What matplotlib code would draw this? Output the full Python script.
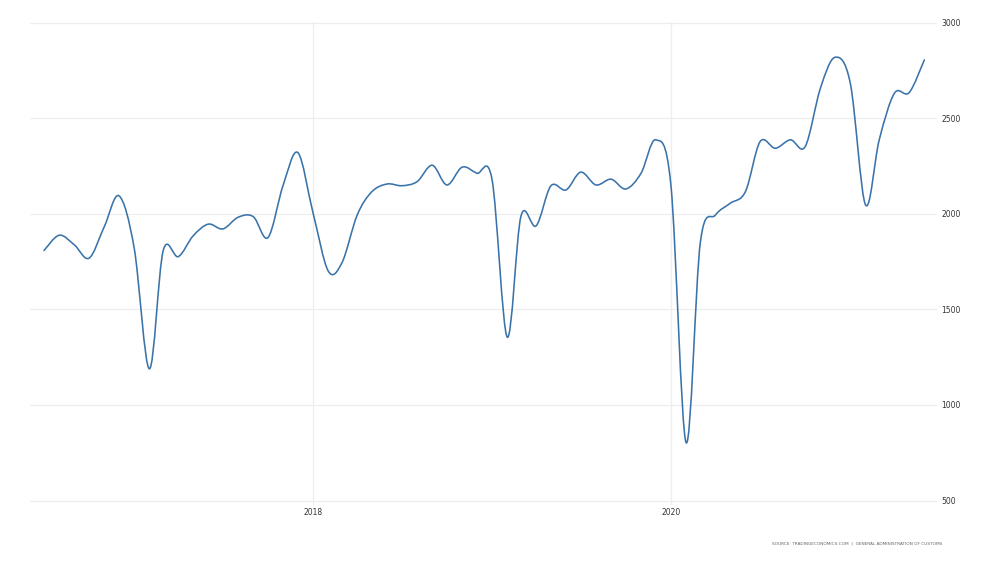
import matplotlib
matplotlib.use("Agg")
import matplotlib.pyplot as plt
import matplotlib.dates as mdates
from matplotlib.path import Path
from matplotlib.patches import PathPatch
import numpy as np
import pandas as pd

# ---- data (monthly, Jul 2016 - Jun 2021) ----
start_month = "2016-07-01"
values = [
    1808, 1888, 1837, 1768, 1933, 2094,            # 2016 Jul-Dec
    1820, 1189, 1806, 1776, 1884, 1946,            # 2017 Jan-Jun
    1921, 1982, 1985, 1876, 2151, 2320,            # 2017 Jul-Dec
    2003, 1700, 1745, 1994, 2116, 2156,            # 2018 Jan-Jun
    2147, 2168, 2254, 2151, 2244, 2212,            # 2018 Jul-Dec
    2180, 1355, 1987, 1937, 2146, 2125,            # 2019 Jan-Jun
    2218, 2151, 2181, 2130, 2212, 2387,            # 2019 Jul-Dec
    2150, 803, 1850, 1994, 2055, 2116,             # 2020 Jan-Jun
    2378, 2343, 2387, 2352, 2657, 2819,            # 2020 Jul-Dec
    2683, 2047, 2387, 2631, 2634, 2805,            # 2021 Jan-Jun
]
x_tick_labels = ["2018", "2020"]
y_ticks = [500, 1000, 1500, 2000, 2500, 3000]
source_text = "SOURCE: TRADINGECONOMICS.COM  |  GENERAL ADMINISTRATION OF CUSTOMS"

dates = pd.date_range(start_month, periods=len(values), freq="MS")
xs = mdates.date2num(dates.to_pydatetime())
ys = np.asarray(values, dtype=float)

# ---- figure ----
fig = plt.figure(figsize=(10, 5.63), dpi=100)
ax = fig.add_axes([0.030, 0.103, 0.907, 0.8585])

# smooth curve through the monthly points (Catmull-Rom as cubic Bezier)
pts = np.column_stack([xs, ys])
ext = np.vstack([pts[0], pts, pts[-1]])
verts = [tuple(pts[0])]
codes = [Path.MOVETO]
for i in range(len(pts) - 1):
    p0, p1, p2, p3 = ext[i], ext[i + 1], ext[i + 2], ext[i + 3]
    c1 = p1 + (p2 - p0) / 6.0
    c2 = p2 - (p3 - p1) / 6.0
    verts += [tuple(c1), tuple(c2), tuple(p2)]
    codes += [Path.CURVE4] * 3
patch = PathPatch(Path(verts, codes), facecolor="none", edgecolor="#3a73a9",
                  lw=1.15, capstyle="round", joinstyle="round", zorder=3)
ax.add_patch(patch)

month = 30.44
ax.set_xlim(xs[0] - 0.94 * month, xs[-1] + 0.85 * month)
ax.set_ylim(500 - 4.5 / 0.1912, 3000 + 1.0 / 0.1912)

tick_dates = [pd.Timestamp(f"{l}-01-01") for l in x_tick_labels]
ax.set_xticks(mdates.date2num([d.to_pydatetime() for d in tick_dates]))
ax.set_xticklabels(x_tick_labels)
ax.set_yticks(y_ticks)
ax.set_yticklabels([str(v) for v in y_ticks])

ax.yaxis.tick_right()
ax.tick_params(axis="both", length=0, labelsize=5.5, colors="#333333")
ax.tick_params(axis="y", pad=3)
ax.tick_params(axis="x", pad=2.5)
for lbl in ax.get_yticklabels():
    lbl.set_horizontalalignment("left")

ax.grid(True, color="#eeeeee", lw=0.9)
ax.set_axisbelow(True)
for s in ax.spines.values():
    s.set_visible(False)

fig.text(0.942, 0.035, source_text, ha="right", va="center",
         fontsize=3.1, color="#666666")

fig.savefig("out.png", dpi=100, facecolor="white")
